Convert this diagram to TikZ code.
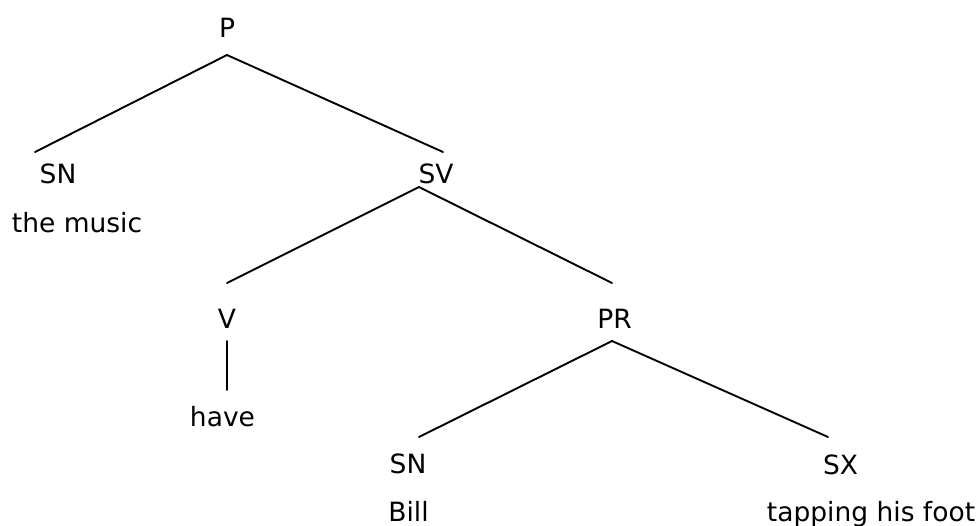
\documentclass[tikz,border=0pt]{standalone}
\usepackage{fontspec}
\setmainfont{DejaVu Sans}
\begin{document}
\begin{tikzpicture}[x=1pt,y=-1pt,
  lab/.style={anchor=base,inner sep=0pt,font=\fontsize{26.5}{30}\selectfont},
  edge/.style={line width=1.9pt,line cap=round}]
\useasboundingbox (0,0) rectangle (979,525);
% labels
\node[lab] (P) at (227,37) {P};
\node[lab] (SN) at (58,183) {SN};
\node[lab] (music) at (77,232) {the music};
\node[lab] (SV) at (436,183) {SV};
\node[lab] (V) at (227,328) {V};
\node[lab] (have) at (222.5,426) {have};
\node[lab] (PR) at (614.5,328) {PR};
\node[lab] (SN2) at (408,473) {SN};
\node[lab] (Bill) at (408.5,521) {Bill};
\node[lab] (SX) at (840.5,474) {SX};
\node[lab] (tap) at (871,521) {tapping his foot};
% connector end points
\coordinate (Pb) at (227,55);
\coordinate (SNt) at (35,152);
\coordinate (SVt) at (443,152);
\coordinate (SVb) at (419,187);
\coordinate (Vt) at (227,283);
\coordinate (PRt) at (612,283);
\coordinate (Vb) at (227,341);
\coordinate (havet) at (227,390);
\coordinate (PRb) at (612,341);
\coordinate (SN2t) at (419,437);
\coordinate (SXt) at (828,437);
% connectors
\draw[edge] (Pb) -- (SNt);
\draw[edge] (Pb) -- (SVt);
\draw[edge] (SVb) -- (Vt);
\draw[edge] (SVb) -- (PRt);
\draw[edge] (Vb) -- (havet);
\draw[edge] (PRb) -- (SN2t);
\draw[edge] (PRb) -- (SXt);
\end{tikzpicture}
\end{document}
